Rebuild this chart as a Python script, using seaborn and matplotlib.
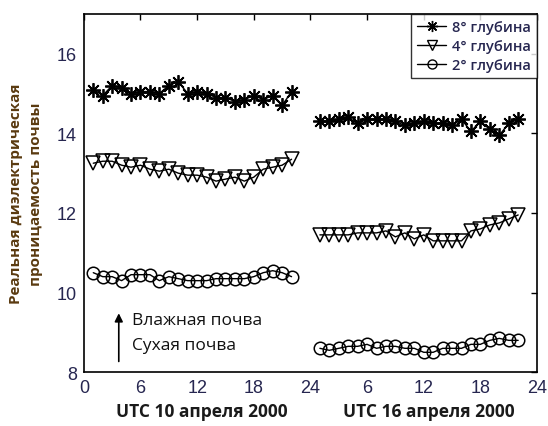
import numpy as np
import pandas as pd
import matplotlib
matplotlib.use("Agg")
import matplotlib.pyplot as plt
import seaborn as sns
from matplotlib.lines import Line2D

sns.set_theme(style="white")
plt.rcParams['font.family'] = ['Liberation Sans', 'DejaVu Sans']

hours_day1 = list(range(1, 23))
hours_day2 = list(range(25, 47))
tick_positions = [0, 6, 12, 18, 24, 30, 36, 42, 48]
tick_labels = ['0', '6', '12', '18', '24', '6', '12', '18', '24']
y_ticks = [8, 10, 12, 14, 16]

depth8_day1 = [15.1, 14.95, 15.2, 15.15, 15.0, 15.05, 15.05, 15.0, 15.2, 15.3, 15.0,
               15.05, 15.0, 14.9, 14.9, 14.8, 14.85, 14.95, 14.85, 14.95, 14.7, 15.05]
depth4_day1 = [13.25, 13.3, 13.3, 13.2, 13.15, 13.2, 13.1, 13.05, 13.1, 13.0, 12.95,
               12.95, 12.9, 12.8, 12.85, 12.9, 12.8, 12.9, 13.1, 13.15, 13.2, 13.35]
depth2_day1 = [10.5, 10.4, 10.4, 10.3, 10.45, 10.45, 10.45, 10.3, 10.4, 10.35, 10.3,
               10.3, 10.3, 10.35, 10.35, 10.35, 10.35, 10.4, 10.5, 10.55, 10.5, 10.4]
depth8_day2 = [14.3, 14.3, 14.35, 14.4, 14.25, 14.35, 14.35, 14.35, 14.3, 14.2, 14.25,
               14.3, 14.25, 14.25, 14.2, 14.35, 14.05, 14.3, 14.1, 13.95, 14.25, 14.35]
depth4_day2 = [11.45, 11.45, 11.45, 11.45, 11.5, 11.5, 11.5, 11.55, 11.4, 11.5, 11.35,
               11.45, 11.3, 11.3, 11.3, 11.3, 11.55, 11.6, 11.7, 11.75, 11.85, 11.95]
depth2_day2 = [8.6, 8.55, 8.6, 8.65, 8.65, 8.7, 8.6, 8.65, 8.65, 8.6, 8.6,
               8.5, 8.5, 8.6, 8.6, 8.6, 8.7, 8.7, 8.8, 8.85, 8.8, 8.8]

labels = ['8° глубина', '4° глубина', '2° глубина']
series = [
    (labels[0], (8, 2, 0), 10.5, 1.3, depth8_day1, depth8_day2),
    (labels[1], 'v', 9.5, 1.1, depth4_day1, depth4_day2),
    (labels[2], 'o', 9, 1.1, depth2_day1, depth2_day2),
]

fig = plt.figure(figsize=(5.48, 4.27), dpi=100)
ax = fig.add_axes([0.153, 0.126, 0.827, 0.839])

handles = []
for name, mk, ms, mew, d1, d2 in series:
    for hrs, vals in ((hours_day1, d1), (hours_day2, d2)):
        df = pd.DataFrame({'hour': hrs, 'value': vals})
        sns.lineplot(data=df, x='hour', y='value', ax=ax, color='black', lw=1.0,
                     marker=mk, markersize=ms, markerfacecolor='none',
                     markeredgecolor='black', markeredgewidth=mew)
    handles.append(Line2D([0], [0], color='black', lw=1.0, marker=mk, markersize=ms - 2.5,
                          markerfacecolor='none', markeredgecolor='black'))

ax.set_xlim(0, 48)
ax.set_ylim(8, 17)
ax.set_xticks(tick_positions)
ax.set_xticklabels(tick_labels)
ax.set_yticks(y_ticks)
ax.tick_params(direction='in', length=4, width=1, colors='black', labelsize=13,
               top=True, right=True, labeltop=False, labelright=False, pad=5)
for lbl in ax.get_xticklabels() + ax.get_yticklabels():
    lbl.set_color('#262650')
for s in ax.spines.values():
    s.set_color('black')
    s.set_linewidth(1.2)
ax.set_xlabel('')
ax.set_ylabel('Реальная диэлектрическая\nпроницаемость почвы', fontsize=11,
              fontweight='bold', color='#5a3a10', family=['Open Sans', 'DejaVu Sans'],
              linespacing=1.5, labelpad=10)

fig.text(0.368, 0.035, 'UTC 10 апреля 2000', ha='center', va='center', fontsize=12.5,
         fontweight='bold', family=['Open Sans', 'DejaVu Sans'], color='#1a1a1a')
fig.text(0.782, 0.035, 'UTC 16 апреля 2000', ha='center', va='center', fontsize=12.5,
         fontweight='bold', family=['Open Sans', 'DejaVu Sans'], color='#1a1a1a')

ax.annotate('', xy=(3.7, 9.55), xytext=(3.7, 8.2),
            arrowprops=dict(arrowstyle='-|>', color='black', lw=1.2, mutation_scale=12))
ax.text(5.1, 9.3, 'Влажная почва', fontsize=12.5, va='center', ha='left',
        family=['Open Sans', 'DejaVu Sans'], color='#111111')
ax.text(5.1, 8.68, 'Сухая почва', fontsize=12.5, va='center', ha='left',
        family=['Open Sans', 'DejaVu Sans'], color='#111111')

leg = ax.legend(handles, labels, loc='upper right', borderaxespad=0, frameon=True,
                fancybox=False, handlelength=2.0, handletextpad=0.4,
                labelspacing=0.35, borderpad=0.4,
                prop={'family': ['Open Sans', 'DejaVu Sans'], 'size': 10.5, 'weight': 'semibold'})
leg.get_frame().set_edgecolor('black')
leg.get_frame().set_linewidth(1.0)
for t in leg.get_texts():
    t.set_color('#262650')

fig.savefig('out.png', dpi=100)
